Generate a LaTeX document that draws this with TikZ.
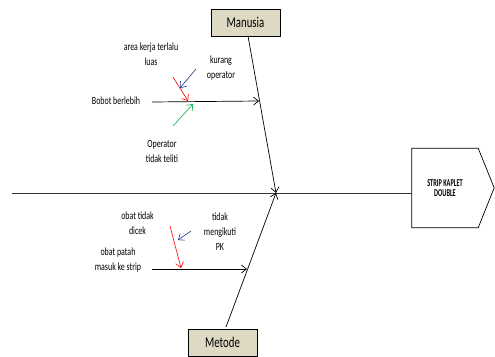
\documentclass[tikz,border=0pt]{standalone}
\usepackage{fontspec}
\usetikzlibrary{arrows.meta}
\newfontfamily\calfont[FakeStretch=0.72]{Carlito}
\newfontfamily\headfont[FakeStretch=0.6]{Carlito}
\definecolor{boxfill}{HTML}{DDD9C3}
\definecolor{causeblue}{HTML}{1F3A8A}
\definecolor{causegreen}{HTML}{00B050}
\tikzset{
  cat/.style={draw, fill=boxfill, minimum width=69, minimum height=27, inner sep=0pt, font=\calfont\fontsize{15}{18}\selectfont},
  cause/.style={align=center, inner sep=0pt, font=\calfont\fontsize{11}{15}\selectfont},
  bone/.style={line width=0.7pt, -{Straight Barb[length=5pt,width=8pt]}},
  sub/.style={line width=0.6pt, -{Straight Barb[length=5pt,width=8pt]}}
}
\begin{document}
\begin{tikzpicture}[x=1pt, y=-1pt]
\useasboundingbox (0,0) rectangle (495,356);
% head and spine
\node (strip)[minimum width=66, minimum height=79, inner sep=0pt, align=center, font=\headfont\fontsize{10.5}{10}\bfseries\selectfont] at (445,188) {STRIP KAPLET\\DOUBLE};
\draw[line width=0.7pt] (strip.north west) -- (strip.north east) -- ++(16,39.5) -- (strip.south east) -- (strip.south west) -- cycle;
\coordinate (spinestart) at (12,193);
\coordinate (head) at (276,193);
\draw[line width=1pt, black!80] (spinestart) -- (spinestart -| strip.west);
% categories
\node (manusia)[cat] at (245.5,22.5) {Manusia};
\node (metode)[cat] at (222.5,342.5) {Metode};
\coordinate (manusiaS) at (248,36);
\coordinate (metodeN) at (226,327);
\draw[bone] (manusiaS) -- (head);
\draw[bone] (metodeN) -- (head);
% Manusia causes
\node (bobot)[cause] at (116,101) {Bobot berlebih};
\node (area)[cause] at (151,54) {area kerja terlalu\\luas};
\node (kurang)[cause] at (221,68) {kurang\\operator};
\node (teliti)[cause] at (162,151) {Operator\\tidak teliti};
\coordinate (bobotS) at (152,102);
\coordinate (bobotE) at (259,101);
\coordinate (redS) at (173,77);
\coordinate (redE) at (188,101);
\coordinate (blueS) at (196,69);
\coordinate (blueE) at (180,88);
\coordinate (greenS) at (173,126);
\coordinate (greenE) at (193,104);
\draw[bone] (bobotS) -- (bobotE);
\draw[sub, red] (redS) -- (redE);
\draw[sub, causeblue] (blueS) -- (blueE);
\draw[sub, causegreen] (greenS) -- (greenE);
% Metode causes
\node (patah)[cause] at (118,260.5) {obat patah\\masuk ke strip};
\node (dicek)[cause] at (137.5,223.5) {obat tidak\\dicek};
\node (pk)[cause] at (220,232) {tidak\\mengikuti\\PK};
\coordinate (patahS) at (152,269);
\coordinate (patahE) at (247,269);
\coordinate (red2S) at (170,226);
\coordinate (red2E) at (181,268);
\coordinate (blue2S) at (191,231);
\coordinate (blue2E) at (178,240);
\draw[bone] (patahS) -- (patahE);
\draw[sub, red] (red2S) -- (red2E);
\draw[sub, causeblue] (blue2S) -- (blue2E);
\end{tikzpicture}
\end{document}
